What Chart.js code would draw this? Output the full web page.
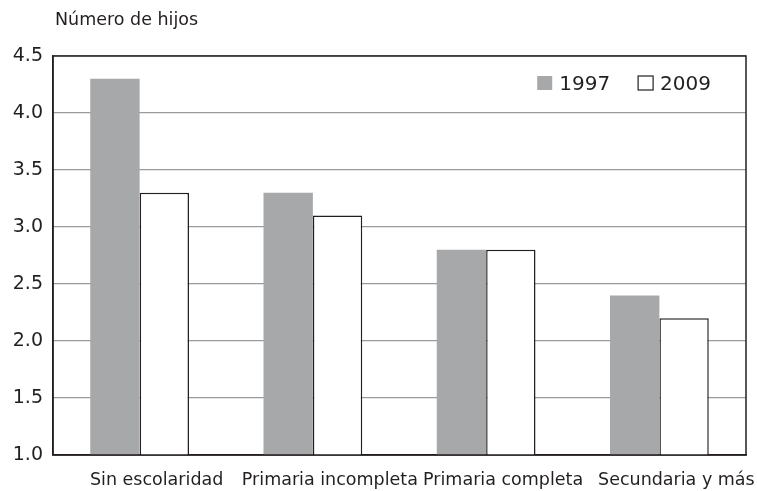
<!DOCTYPE html>
<html>
<head>
<meta charset="utf-8">
<script src="https://cdn.jsdelivr.net/npm/chart.js@4.4.1/dist/chart.umd.min.js"></script>
<style>
  html, body { margin: 0; padding: 0; background: #fff; }
  #wrap { width: 757px; height: 491px; position: relative; }
</style>
</head>
<body>
<div id="wrap"><canvas id="mycanvas"></canvas></div>
<script>
// data
var categories = ["Sin escolaridad", "Primaria incompleta", "Primaria completa", "Secundaria y más"];
var values1997 = [4.3, 3.3, 2.8, 2.4];
var values2009 = [3.3, 3.1, 2.8, 2.2];
var seriesNames = ["1997", "2009"];
var yTitle = "Número de hijos";

var fontFamily = "'DejaVu Sans', 'Open Sans', sans-serif";
var ink = "#231f20";

// frame around the plot, the title above the y axis and the legend inside the plot
var framePlugin = {
    id: "frame",
    afterDraw: function(chart) {
        var a = chart.chartArea;
        var ctx = chart.ctx;
        ctx.save();
        ctx.strokeStyle = ink;
        ctx.lineWidth = 1.5;
        ctx.strokeRect(a.left, a.top, a.right - a.left, a.bottom - a.top);

        ctx.fillStyle = ink;
        ctx.font = "17.5px " + fontFamily;
        ctx.textBaseline = "alphabetic";
        ctx.textAlign = "left";
        ctx.fillText(yTitle, a.left + 2, 25);

        // legend, right aligned near the top of the plot
        ctx.font = "20px " + fontFamily;
        var x = a.right - 35;
        var items = chart.data.datasets.slice().reverse();
        items.forEach(function(ds) {
            var w = ctx.measureText(ds.label).width;
            x -= w;
            ctx.fillStyle = ink;
            ctx.fillText(ds.label, x, a.top + 34);
            x -= 22;
            ctx.fillStyle = ds.backgroundColor;
            ctx.fillRect(x, a.top + 20, 15, 14);
            if (ds.borderWidth) {
                ctx.lineWidth = 1.2;
                ctx.strokeStyle = ds.borderColor;
                ctx.strokeRect(x, a.top + 20, 15, 14);
            }
            x -= 28;
        });
        ctx.restore();
    }
};

var chartdata = {
    labels: categories,
    datasets: [
        {
            label: seriesNames[0],
            data: values1997,
            backgroundColor: "#a7a8aa",
            borderColor: "#a7a8aa",
            borderWidth: 0,
            barPercentage: 1.0,
            categoryPercentage: 0.57
        },
        {
            label: seriesNames[1],
            data: values2009,
            backgroundColor: "#ffffff",
            borderColor: ink,
            borderWidth: 1.5,
            barPercentage: 1.0,
            categoryPercentage: 0.57
        }
    ]
};

var ctx = document.getElementById("mycanvas");

var barGraph = new Chart(ctx, {
    type: "bar",
    data: chartdata,
    plugins: [framePlugin],
    options: {
        responsive: true,
        maintainAspectRatio: false,
        animation: false,
        layout: { padding: { top: 56, right: 11, left: 0, bottom: 1 } },
        plugins: {
            tooltip: { enabled: false },
            legend: { display: false }
        },
        scales: {
            x: {
                afterFit: function(scale) { scale.height = 35; },
                grid: { display: false, drawTicks: false },
                border: { color: ink, width: 1.5 },
                ticks: {
                    autoSkip: false,
                    maxRotation: 0,
                    minRotation: 0,
                    labelOffset: 17,
                    color: ink,
                    padding: 15,
                    font: { family: fontFamily, size: 17.5 }
                }
            },
            y: {
                min: 1,
                max: 4.5,
                afterFit: function(scale) { scale.width = 53; },
                grid: { color: "#9a9a9a", lineWidth: 1.2, drawTicks: false },
                border: { color: ink, width: 1.5 },
                ticks: {
                    stepSize: 0.5,
                    color: ink,
                    padding: 10,
                    font: { family: fontFamily, size: 19 },
                    callback: function(v) { return v.toFixed(1); }
                }
            }
        }
    }
});
</script>
</body>
</html>
